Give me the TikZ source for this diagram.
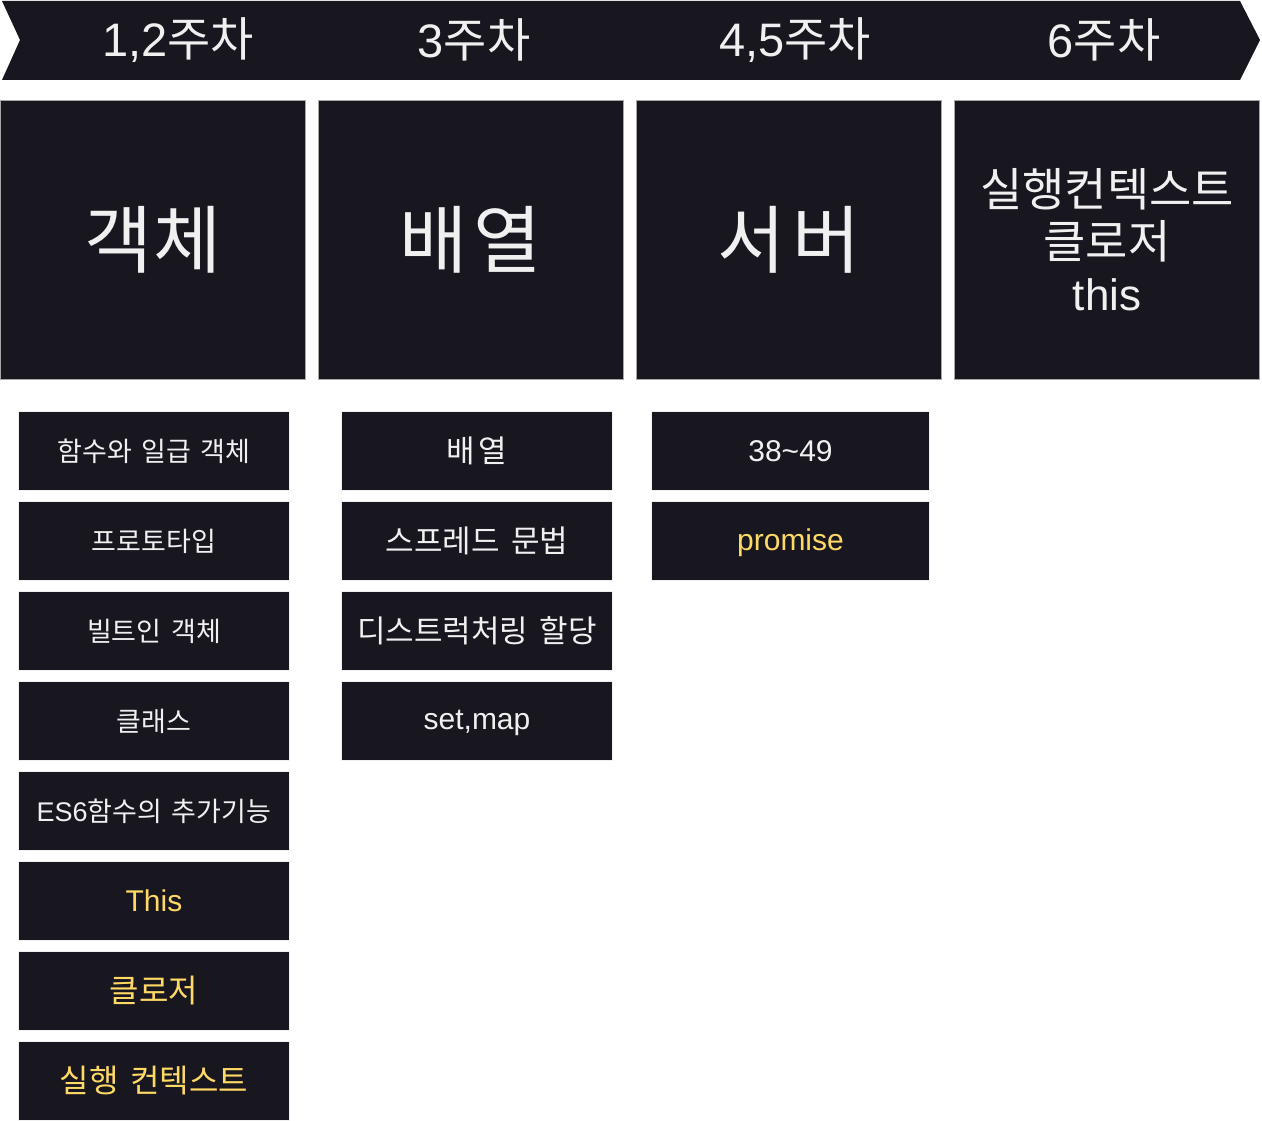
\documentclass[tikz,border=0pt]{standalone}
\usepackage{fontspec}
\setmainfont{Liberation Sans}
\newfontfamily\krfont[WordSpace=1.6]{Noto Sans CJK KR}
\usetikzlibrary{positioning}
\definecolor{boxfill}{HTML}{18161F}
\definecolor{boxtext}{HTML}{F0F0F0}
\definecolor{hotyellow}{HTML}{FFD966}

\begin{document}
\begin{tikzpicture}[x=1pt,y=-1pt]
        \tikzstyle{every node}=[inner sep=0pt, outer sep=0pt, text=boxtext, align=center]
        \tikzstyle{big}=[draw=gray!70, fill=boxfill, line width=1pt, minimum width=305pt, minimum height=279pt, font=\krfont\fontsize{74}{86}\selectfont]
        \tikzstyle{item}=[draw=gray!12, fill=boxfill, line width=1pt, minimum width=271pt, minimum height=79pt, font=\fontsize{27}{32}\selectfont]
        \tikzstyle{wide}=[item, font=\fontsize{31}{36}\selectfont]
        \tikzstyle{hot}=[item, text=hotyellow, font=\fontsize{32}{38}\selectfont]
        \tikzstyle{week}=[font=\fontsize{47}{54}\selectfont]
        \useasboundingbox (0,0) rectangle (1262,1121);
        % week banner
        \fill[boxfill] (2,1) -- (1240,1) -- (1260,40) -- (1240,80) -- (2,80) -- (20,40) -- cycle;
        \node[week] (w12) at (178,40) {1,2{\krfont 주차}};
        \node[week] (w3) at (474,40) {3{\krfont 주차}};
        \node[week] (w45) at (795,40) {4,5{\krfont 주차}};
        \node[week] (w6) at (1104,40) {6{\krfont 주차}};
        % topics
        \node[big, anchor=north west] (obj) at (0.5,100.5) {객체};
        \node[big, right=13pt of obj] (arr) {배\hspace{6pt}열};
        \node[big, right=13pt of arr] (srv) {서\hspace{6pt}버};
        \node[big, right=13pt of srv, font=\krfont\fontsize{46}{52}\selectfont] (ctx) {실행컨텍스트\\클로저\\{\rmfamily\fontsize{44}{52}\selectfont this}};
        % 1,2주차
        \node[item, anchor=north west] (o1) at (18.5,411.5) {\krfont 함수와 일급 객체};
        \node[item, below=11pt of o1] (o2) {\krfont 프로토타입};
        \node[item, below=11pt of o2] (o3) {\krfont 빌트인 객체};
        \node[item, below=11pt of o3] (o4) {\krfont 클래스};
        \node[item, below=11pt of o4, font=\fontsize{27}{32}\selectfont] (o5) {ES6{\krfont 함수의 추가기능}};
        \node[hot, below=11pt of o5, font=\fontsize{30}{36}\selectfont] (o6) {This};
        \node[hot, below=11pt of o6] (o7) {\krfont 클로저};
        \node[hot, below=11pt of o7] (o8) {\krfont 실행 컨텍스트};
        % 3주차
        \node[wide, anchor=north west] (a1) at (341.5,411.5) {\krfont 배\hspace{3pt}열};
        \node[wide, below=11pt of a1] (a2) {\krfont 스프레드 문법};
        \node[wide, below=11pt of a2] (a3) {\krfont 디스트럭처링 할당};
        \node[wide, below=11pt of a3, font=\fontsize{30}{36}\selectfont, text depth=3pt] (a4) {set,map};
        % 4,5주차
        \node[wide, anchor=north west, minimum width=278pt, font=\fontsize{30}{36}\selectfont] (s1) at (651.5,411.5) {38\textasciitilde 49};
        \node[hot, below=11pt of s1, minimum width=278pt, font=\fontsize{30}{36}\selectfont, text depth=3pt] (s2) {promise};
    \end{tikzpicture}
\end{document}
